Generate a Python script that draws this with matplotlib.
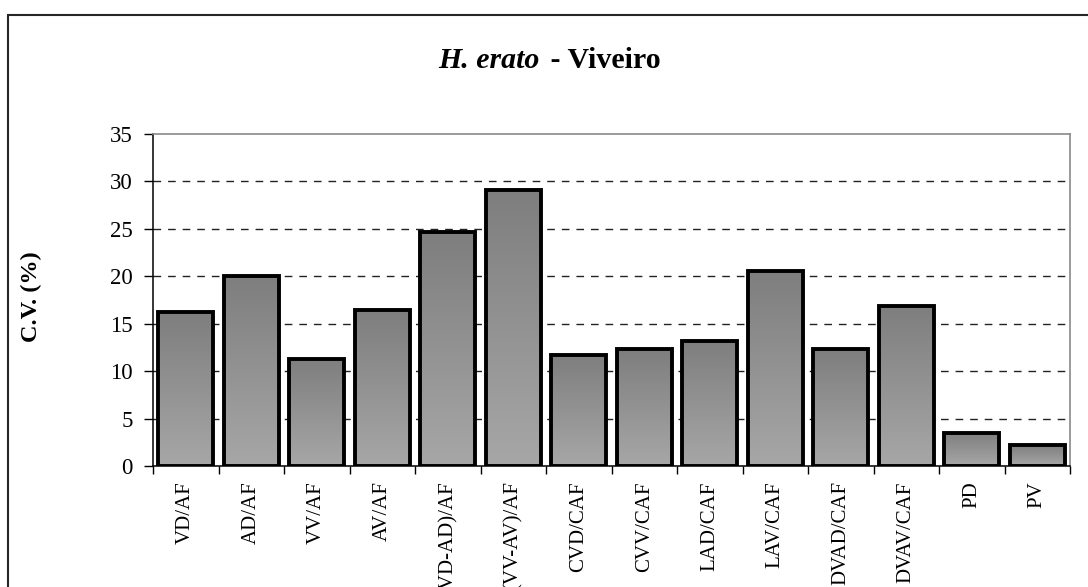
import numpy as np
import matplotlib
matplotlib.use("Agg")
import matplotlib.pyplot as plt
from matplotlib.colors import LinearSegmentedColormap
from matplotlib.patches import Rectangle
from matplotlib.ticker import FixedLocator

plt.rcParams['font.family'] = ['Liberation Serif', 'DejaVu Serif']

# Coefficient of variation per morphometric ratio
categories = ["VD/AF", "AD/AF", "VV/AF", "AV/AF", "(VD-AD)/AF", "(VV-AV)/AF",
              "CVD/CAF", "CVV/CAF", "LAD/CAF", "LAV/CAF", "DVAD/CAF", "DVAV/CAF",
              "PD", "PV"]
cv_values = [16.2, 20.0, 11.3, 16.4, 24.65, 29.1, 11.75, 12.3, 13.2, 20.6,
             12.3, 16.9, 3.5, 2.2]
y_ticks = [0, 5, 10, 15, 20, 25, 30, 35]

W, H = 1088, 587
fig = plt.figure(figsize=(W / 100, H / 100), dpi=100)
fig.patch.set_facecolor("white")

# outer chart frame (runs past the right and bottom edges)
fig.patches.append(Rectangle((8 / W, -0.2), 1.2, 1 - 15 / H + 0.2,
                             transform=fig.transFigure, fill=False,
                             edgecolor="#262626", linewidth=1.5, clip_on=False))

ax_l, ax_r, ax_b, ax_t = 153, 1070, 466, 134
ax = fig.add_axes([ax_l / W, 1 - ax_b / H, (ax_r - ax_l) / W, (ax_b - ax_t) / H])

x = np.arange(len(categories))
bars = ax.bar(x, cv_values, width=0.84, facecolor="none", edgecolor="black",
              linewidth=2.8, zorder=3)

cmap = LinearSegmentedColormap.from_list("bargrad", ["#a7a7a7", "#7e7e7e"])
grad = np.linspace(0, 1, 256).reshape(-1, 1)
for b in bars:
    x0, w, h = b.get_x(), b.get_width(), b.get_height()
    im = ax.imshow(grad, extent=[x0, x0 + w, 0, h], origin="lower",
                   aspect="auto", cmap=cmap, zorder=2, interpolation="bilinear")
    im.set_clip_path(b)

ax.set_xlim(-0.5, len(categories) - 0.5)
ax.set_ylim(0, 35)
ax.set_yticks(y_ticks)
ax.set_yticklabels([str(v) for v in y_ticks], fontsize=16.5)

ax.set_xticks(x)
ax.set_xticklabels(categories, rotation=90, fontsize=15, va="top", ha="center")
ax.xaxis.set_minor_locator(FixedLocator(np.arange(-0.5, len(categories), 1.0)))
ax.tick_params(axis="x", which="major", length=0, pad=11)
ax.tick_params(axis="x", which="minor", length=5.5, width=1, direction="out")
ax.tick_params(axis="y", length=6.5, width=1, direction="out", pad=8)

for v in y_ticks[1:-1]:
    ax.axhline(v, color="#222222", linewidth=1.0, linestyle=(0, (5.5, 5)),
               zorder=1)

for s in ("left", "bottom"):
    ax.spines[s].set_color("black")
    ax.spines[s].set_linewidth(1.1)
for s in ("top", "right"):
    ax.spines[s].set_color("#8a8a8a")
    ax.spines[s].set_linewidth(1.2)

fig.text(31 / W, 1 - 297 / H, "C.V. (%)", rotation=90, ha="center", va="center",
         fontsize=17.5, fontweight="bold")

# title: italic species name followed by bold location
fig.canvas.draw()
r = fig.canvas.get_renderer()
t1 = fig.text(0, 1 - 68 / H, "H. erato", fontsize=21.5, fontweight="bold",
              fontstyle="italic", ha="left", va="baseline")
t2 = fig.text(0, 1 - 68 / H, " - Viveiro", fontsize=21.5, fontweight="bold",
              ha="left", va="baseline")
w1 = t1.get_window_extent(r).width
w2 = t2.get_window_extent(r).width
start = 548 - (w1 + w2) / 2
t1.set_x(start / W)
t2.set_x((start + w1 + 3) / W)

fig.savefig("out.png", dpi=100)
